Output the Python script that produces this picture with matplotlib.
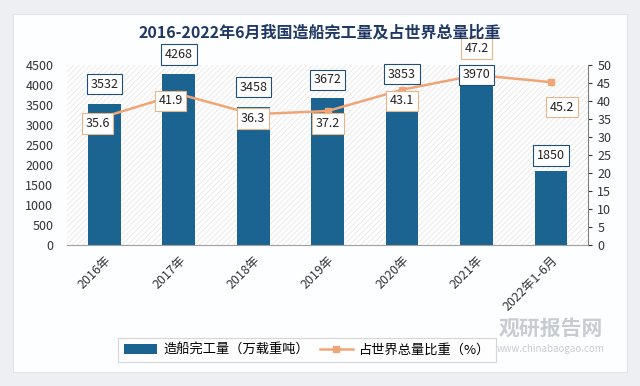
import matplotlib
matplotlib.use("Agg")
import matplotlib.pyplot as plt
from matplotlib.patches import Rectangle, FancyBboxPatch

plt.rcParams["font.family"] = ["Noto Sans CJK SC", "DejaVu Sans"]
plt.rcParams["hatch.linewidth"] = 0.6

# 数据
categories = ["2016年", "2017年", "2018年", "2019年", "2020年", "2021年", "2022年1-6月"]
completion = [3532, 4268, 3458, 3672, 3853, 3970, 1850]
share = [35.6, 41.9, 36.3, 37.2, 43.1, 47.2, 45.2]
bar_offsets = [14, 14, 14, 13, 12, 8, 11]
share_offsets = [(-5, -5), (-6, -5), (0, -3), (0, -9), (0, -8), (0, 19), (8, -18)]

bar_color = "#1B6491"
line_color = "#F0A577"

fig = plt.figure(figsize=(6.4, 3.86), dpi=100)
fig.patch.set_facecolor("#EDEFF2")
card = FancyBboxPatch((0.02, 0.035), 0.96, 0.93, boxstyle="square,pad=0",
                      transform=fig.transFigure, facecolor="#FDFEFF",
                      edgecolor="#E2E4E8", linewidth=0.8, zorder=-10)
fig.patches.append(card)

ax1 = fig.add_axes([0.105, 0.365, 0.814, 0.467])
ax1.set_facecolor("none")
ax1.add_patch(Rectangle((0, 0), 1, 1, transform=ax1.transAxes, facecolor="white",
                        edgecolor="#E6E6E6", hatch="//////", linewidth=0, zorder=0))

x = list(range(len(categories)))
ax1.bar(x, completion, width=0.44, color=bar_color, label="造船完工量（万载重吨）", zorder=2)
ax1.set_xlim(-0.5, len(categories) - 0.5)
ax1.set_ylim(0, 4500)
ax1.set_yticks(range(0, 4501, 500))
ax1.tick_params(axis="y", length=0, labelsize=9, colors="#333333", pad=10)
ax1.set_xticks(x)
ax1.set_xticklabels(categories, rotation=45, ha="right", rotation_mode="anchor",
                    fontsize=9, color="#333333")
ax1.tick_params(axis="x", length=0, pad=6)
for side in ["left", "top", "right"]:
    ax1.spines[side].set_visible(False)
ax1.spines["bottom"].set_color("#A0A0A0")

ax2 = ax1.twinx()
ax2.plot(x, share, color=line_color, marker="s", markersize=5, linewidth=1.8,
         label="占世界总量比重（%）", zorder=4)
ax2.set_ylim(0, 50)
ax2.set_yticks(range(0, 51, 5))
ax2.tick_params(axis="y", labelsize=9, colors="#333333", length=3)
for side in ["left", "top", "bottom"]:
    ax2.spines[side].set_visible(False)
ax2.spines["right"].set_color("#808080")

# 柱子标签放在 ax2 上，才能压在折线上面
for xi, v, off in zip(x, completion, bar_offsets):
    ax2.annotate(str(v), (xi, v), xycoords=ax1.transData, xytext=(0, off),
                 textcoords="offset points", ha="center", va="center", fontsize=9,
                 color="#222222", zorder=6,
                 bbox=dict(boxstyle="square,pad=0.3", fc="white", ec="#1F4E79", lw=0.8))

for xi, v, off in zip(x, share, share_offsets):
    ax2.annotate(f"{v}", (xi, v), xytext=off, textcoords="offset points",
                 ha="center", va="center", fontsize=9, color="#222222", zorder=7,
                 bbox=dict(boxstyle="square,pad=0.3", fc="white", ec="#E8B48A", lw=0.8))

fig.text(0.5, 0.915, "2016-2022年6月我国造船完工量及占世界总量比重", ha="center", va="center",
         fontsize=11.5, fontweight="bold", color="#1F3864")

# 水印
fig.text(0.86, 0.15, "观研报告网", ha="center", va="center", fontsize=15,
         fontweight="bold", color="#C8CCD2", zorder=1)
fig.text(0.86, 0.095, "www.chinabaogao.com", ha="center", va="center", fontsize=7,
         color="#C8CCD2", zorder=1)

h1, l1 = ax1.get_legend_handles_labels()
h2, l2 = ax2.get_legend_handles_labels()
leg = fig.legend(h1 + h2, l1 + l2, loc="center", bbox_to_anchor=(0.48, 0.093), ncol=2,
                 fontsize=9.5, frameon=True, fancybox=False, edgecolor="#CCCCCC",
                 handlelength=2.5, handletextpad=0.5, columnspacing=0.8, borderpad=0.4)
leg.get_frame().set_linewidth(0.8)

fig.savefig("out.png", dpi=100, facecolor=fig.get_facecolor())
